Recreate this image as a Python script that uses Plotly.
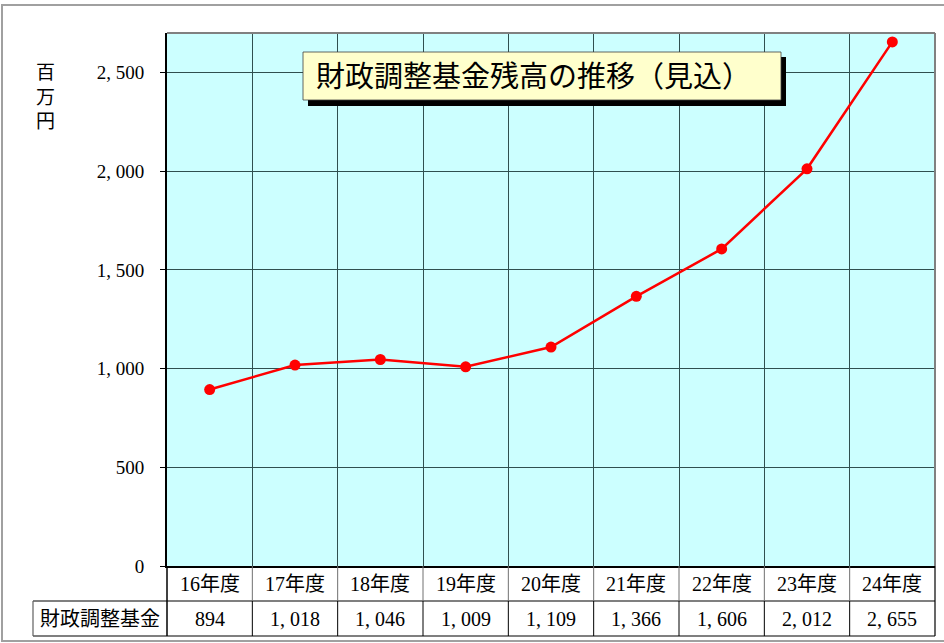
import plotly.graph_objects as go

categories = ["16年度", "17年度", "18年度", "19年度", "20年度", "21年度", "22年度", "23年度", "24年度"]
values = [894, 1018, 1046, 1009, 1109, 1366, 1606, 2012, 2655]
series_name = "財政調整基金"
title_text = "財政調整基金残高の推移（見込）"
unit_label = "百<br>万<br>円"
y_ticks = [0, 500, 1000, 1500, 2000, 2500]

W, H = 944, 643
L, R, T, B = 167, 935, 33, 566  # plot area pixels


def px(x):
    return (x - L) / (R - L)


def py(y):
    return (B - y) / (B - T)


def fmt(v):
    return f"{v:,}".replace(",", ", ")


FONT = "Liberation Serif, 'Noto Sans CJK JP', serif"
n = len(categories)
xs = list(range(n))

fig = go.Figure()
fig.add_trace(go.Scatter(
    x=xs, y=values, mode="lines+markers",
    line=dict(color="#FF0000", width=2.5),
    marker=dict(color="#FF0000", size=11),
    hoverinfo="skip", showlegend=False, cliponaxis=False,
))

shapes = []
annotations = []

# outer chart border
shapes.append(dict(type="rect", xref="paper", yref="paper",
                   x0=px(2), x1=px(948), y0=py(5), y1=py(641),
                   line=dict(color="#A0A0A0", width=2), layer="below"))
# top / right plot border (grey)
shapes.append(dict(type="line", xref="paper", yref="paper", x0=0, x1=1, y0=1, y1=1,
                   line=dict(color="#808080", width=2)))
shapes.append(dict(type="line", xref="paper", yref="paper", x0=1, x1=1, y0=0, y1=1,
                   line=dict(color="#808080", width=2)))

# data table
row1_bot = py(601)
row2_bot = py(636)
shapes.append(dict(type="line", xref="paper", yref="paper", x0=px(33), x1=1, y0=row1_bot, y1=row1_bot,
                   line=dict(color="#000000", width=1.2)))
shapes.append(dict(type="line", xref="paper", yref="paper", x0=px(33), x1=1, y0=row2_bot, y1=row2_bot,
                   line=dict(color="#000000", width=1.2)))
shapes.append(dict(type="line", xref="paper", yref="paper", x0=px(33), x1=px(33), y0=row1_bot, y1=row2_bot,
                   line=dict(color="#606060", width=1.2)))
shapes.append(dict(type="line", xref="paper", yref="paper", x0=0, x1=0, y0=0, y1=row2_bot,
                   line=dict(color="#000000", width=1.5)))
shapes.append(dict(type="line", xref="paper", yref="paper", x0=1, x1=1, y0=0, y1=row2_bot,
                   line=dict(color="#000000", width=1.2)))
for i in range(n - 1):
    shapes.append(dict(type="line", xref="x", yref="paper", x0=i + 0.5, x1=i + 0.5, y0=0, y1=row1_bot,
                       line=dict(color="#707070", width=1)))
    shapes.append(dict(type="line", xref="x", yref="paper", x0=i + 0.5, x1=i + 0.5, y0=row1_bot, y1=row2_bot,
                       line=dict(color="#000000", width=1)))

for i, (c, v) in enumerate(zip(categories, values)):
    annotations.append(dict(x=i, y=py(583.5), xref="x", yref="paper", text=c, showarrow=False,
                            font=dict(family=FONT, size=20, color="#000000"), xanchor="center", yanchor="middle"))
    annotations.append(dict(x=i, y=py(618.5), xref="x", yref="paper", text=fmt(v), showarrow=False,
                            font=dict(family=FONT, size=20, color="#000000"), xanchor="center", yanchor="middle"))
annotations.append(dict(x=px(100), y=py(618.5), xref="paper", yref="paper", text=series_name, showarrow=False,
                        font=dict(family=FONT, size=20, color="#000000"), xanchor="center", yanchor="middle"))

# unit label
annotations.append(dict(x=px(45), y=py(97), xref="paper", yref="paper", text=unit_label, showarrow=False,
                        font=dict(family=FONT, size=19, color="#000000"), xanchor="center", yanchor="middle"))

# title box with shadow
shapes.append(dict(type="rect", xref="paper", yref="paper", x0=px(308), x1=px(786), y0=py(106), y1=py(57),
                   fillcolor="#000000", line=dict(width=0)))
shapes.append(dict(type="rect", xref="paper", yref="paper", x0=px(303), x1=px(781), y0=py(100), y1=py(52),
                   fillcolor="#FFFFCC", line=dict(color="#404040", width=0.8)))
annotations.append(dict(x=px(533), y=py(77), xref="paper", yref="paper", text=title_text, showarrow=False,
                        font=dict(family=FONT, size=29, color="#000000"), xanchor="center", yanchor="middle"))

fig.update_layout(
    width=W, height=H,
    margin=dict(l=L, r=W - R, t=T, b=H - B, pad=0),
    paper_bgcolor="#FFFFFF",
    plot_bgcolor="#CCFFFF",
    shapes=shapes,
    annotations=annotations,
    xaxis=dict(range=[-0.5, n - 0.5], tickvals=[i + 0.5 for i in range(n - 1)], showticklabels=False,
               showgrid=True, gridcolor="#2F4F4F", gridwidth=1, ticks="",
               showline=True, linecolor="#000000", linewidth=2, zeroline=False, fixedrange=True),
    yaxis=dict(range=[0, 2700], tickvals=y_ticks, ticktext=[fmt(t) for t in y_ticks],
               showgrid=True, gridcolor="#2F4F4F", gridwidth=1,
               ticks="outside", ticklen=5, tickcolor="#000000",
               tickfont=dict(family=FONT, size=19, color="#000000"), ticklabelstandoff=12,
               showline=True, linecolor="#000000", linewidth=2, zeroline=False, fixedrange=True),
    showlegend=False,
)

fig.write_html("out.html", config={"displayModeBar": False},
               post_script="document.body.style.margin='0';document.body.style.padding='0';")
